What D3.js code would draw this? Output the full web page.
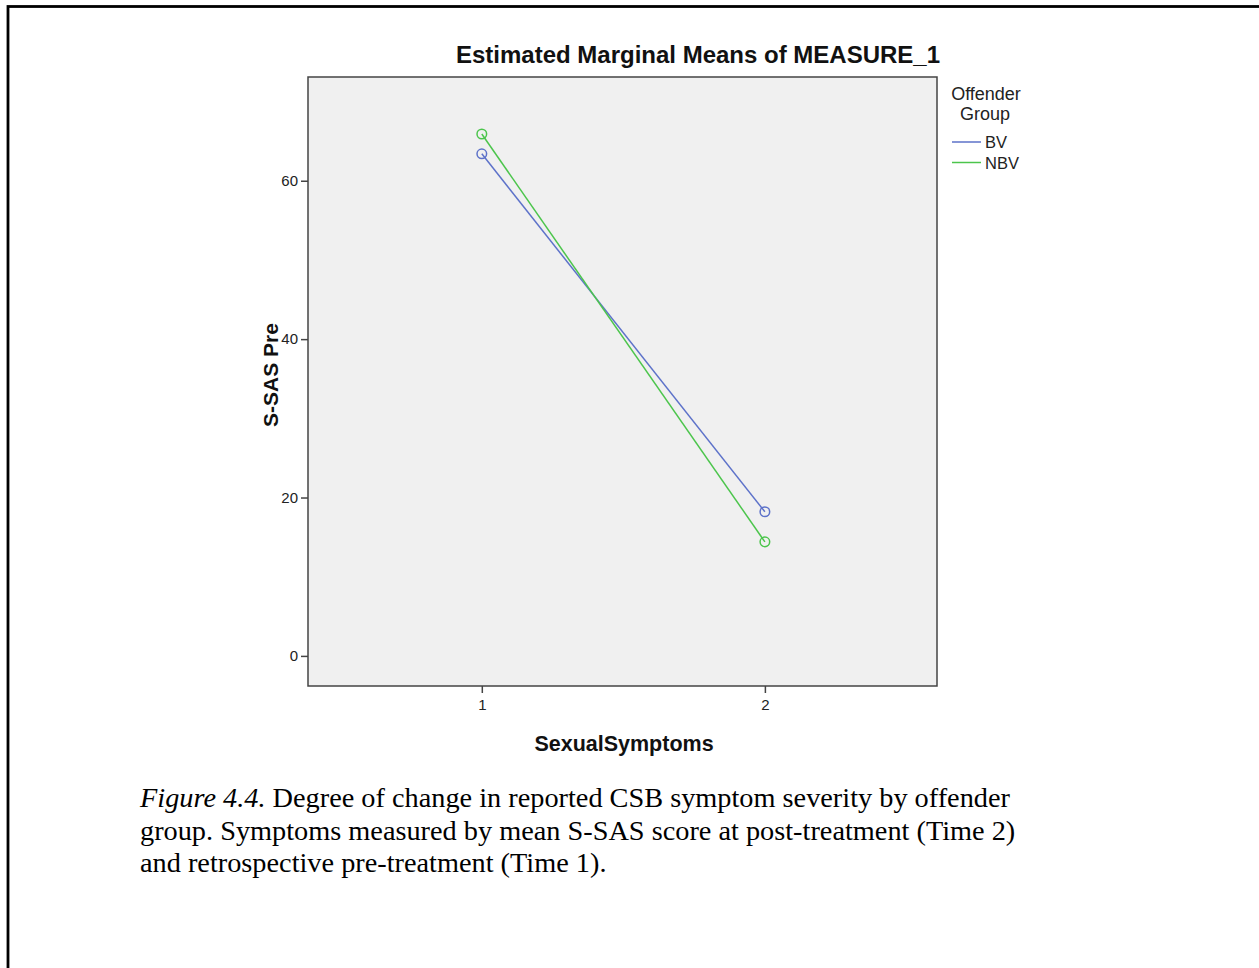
<!DOCTYPE html>
<html><head><meta charset="utf-8">
<script src="https://cdn.jsdelivr.net/npm/d3@7"></script>
<style>body{margin:0;background:#fff}svg{display:block}</style>
</head><body>
<svg id="c" width="1259" height="968"></svg>
<script>
const categories = [1, 2];
const groups = ["BV", "NBV"];
const seriesBV = [63.4, 18.2];
const seriesNBV = [65.9, 14.4];
const yTicks = [0, 20, 40, 60];
const colors = ["#5d72c9", "#4cc54c"];
const captionLines = [
  [{t:"Figure 4.4.", i:true},{t:" Degree of change in reported CSB symptom severity by offender", i:false}],
  [{t:"group. Symptoms measured by mean S-SAS score at post-treatment (Time 2)", i:false}],
  [{t:"and retrospective pre-treatment (Time 1).", i:false}]
];

const F="Arial, 'Liberation Sans', sans-serif";
const svg = d3.select("#c");
svg.append("rect").attr("x",8).attr("y",6.5).attr("width",1300).attr("height",1100)
  .attr("fill","none").attr("stroke","#000").attr("stroke-width",2.8);

const L=308, R=937, T=77, B=686;
const y = d3.scaleLinear().domain([-3.8, 73.1]).range([B, T]);
const x = d3.scaleLinear().domain([0.386, 2.608]).range([L, R]);

svg.append("rect").attr("x",L).attr("y",T).attr("width",R-L).attr("height",B-T)
  .attr("fill","#f0f0f0").attr("stroke","#444").attr("stroke-width",1.5);

function txt(px, py, s, size, anchor, weight){
  return svg.append("text").attr("x",px).attr("y",py)
    .attr("text-anchor",anchor).attr("font-family",F).attr("font-size",size)
    .attr("font-weight",weight||"normal").attr("fill","#222").text(s);
}

const ya = svg.append("g").attr("transform",`translate(${L},0)`)
  .call(d3.axisLeft(y).tickValues(yTicks).tickSize(7).tickPadding(3));
ya.select(".domain").remove();
ya.selectAll("line").attr("stroke","#444").attr("stroke-width",1.5);
ya.selectAll("text").attr("font-family",F).attr("font-size",15).attr("fill","#222");

const xa = svg.append("g").attr("transform",`translate(0,${B})`)
  .call(d3.axisBottom(x).tickValues(categories).tickFormat(d3.format("d")).tickSize(7).tickPadding(6));
xa.select(".domain").remove();
xa.selectAll("line").attr("stroke","#444").attr("stroke-width",1.5);
xa.selectAll("text").attr("font-family",F).attr("font-size",15).attr("fill","#222");

txt(698,63,"Estimated Marginal Means of MEASURE_1",24,"middle","bold").attr("fill","#111");
txt(624,751,"SexualSymptoms",21.5,"middle","bold").attr("fill","#111");
svg.append("text").attr("transform",`translate(278,375) rotate(-90)`).attr("text-anchor","middle")
  .attr("font-family",F).attr("font-weight","bold").attr("font-size",21).attr("fill","#111")
  .text("S-SAS Pre");

const series = [seriesBV, seriesNBV];
const line = d3.line().x((d,i)=>x(categories[i])).y(d=>y(d));
series.forEach((s,k)=>{
  svg.append("path").datum(s).attr("d",line).attr("fill","none")
    .attr("stroke",colors[k]).attr("stroke-width",1.5);
  svg.selectAll(null).data(s).enter().append("circle")
    .attr("cx",(d,i)=>x(categories[i])).attr("cy",d=>y(d)).attr("r",4.8)
    .attr("fill","none").attr("stroke",colors[k]).attr("stroke-width",1.5);
});

// legend
txt(986,100,"Offender",18,"middle");
txt(985,120,"Group",18,"middle");
groups.forEach((g,k)=>{
  const yy = 142 + k*20.5;
  svg.append("line").attr("x1",952).attr("x2",981).attr("y1",yy).attr("y2",yy)
    .attr("stroke",colors[k]).attr("stroke-width",1.5);
  txt(985,yy+6,g,16.5,"start");
});

// caption
captionLines.forEach((ln,i)=>{
  const t = svg.append("text").attr("x",140).attr("y",807+i*32.5)
    .attr("font-family","'Times New Roman','Liberation Serif',serif").attr("font-size",28.3).attr("fill","#000");
  ln.forEach(p=>t.append("tspan").attr("font-style",p.i?"italic":"normal").text(p.t));
});
</script>
</body></html>
